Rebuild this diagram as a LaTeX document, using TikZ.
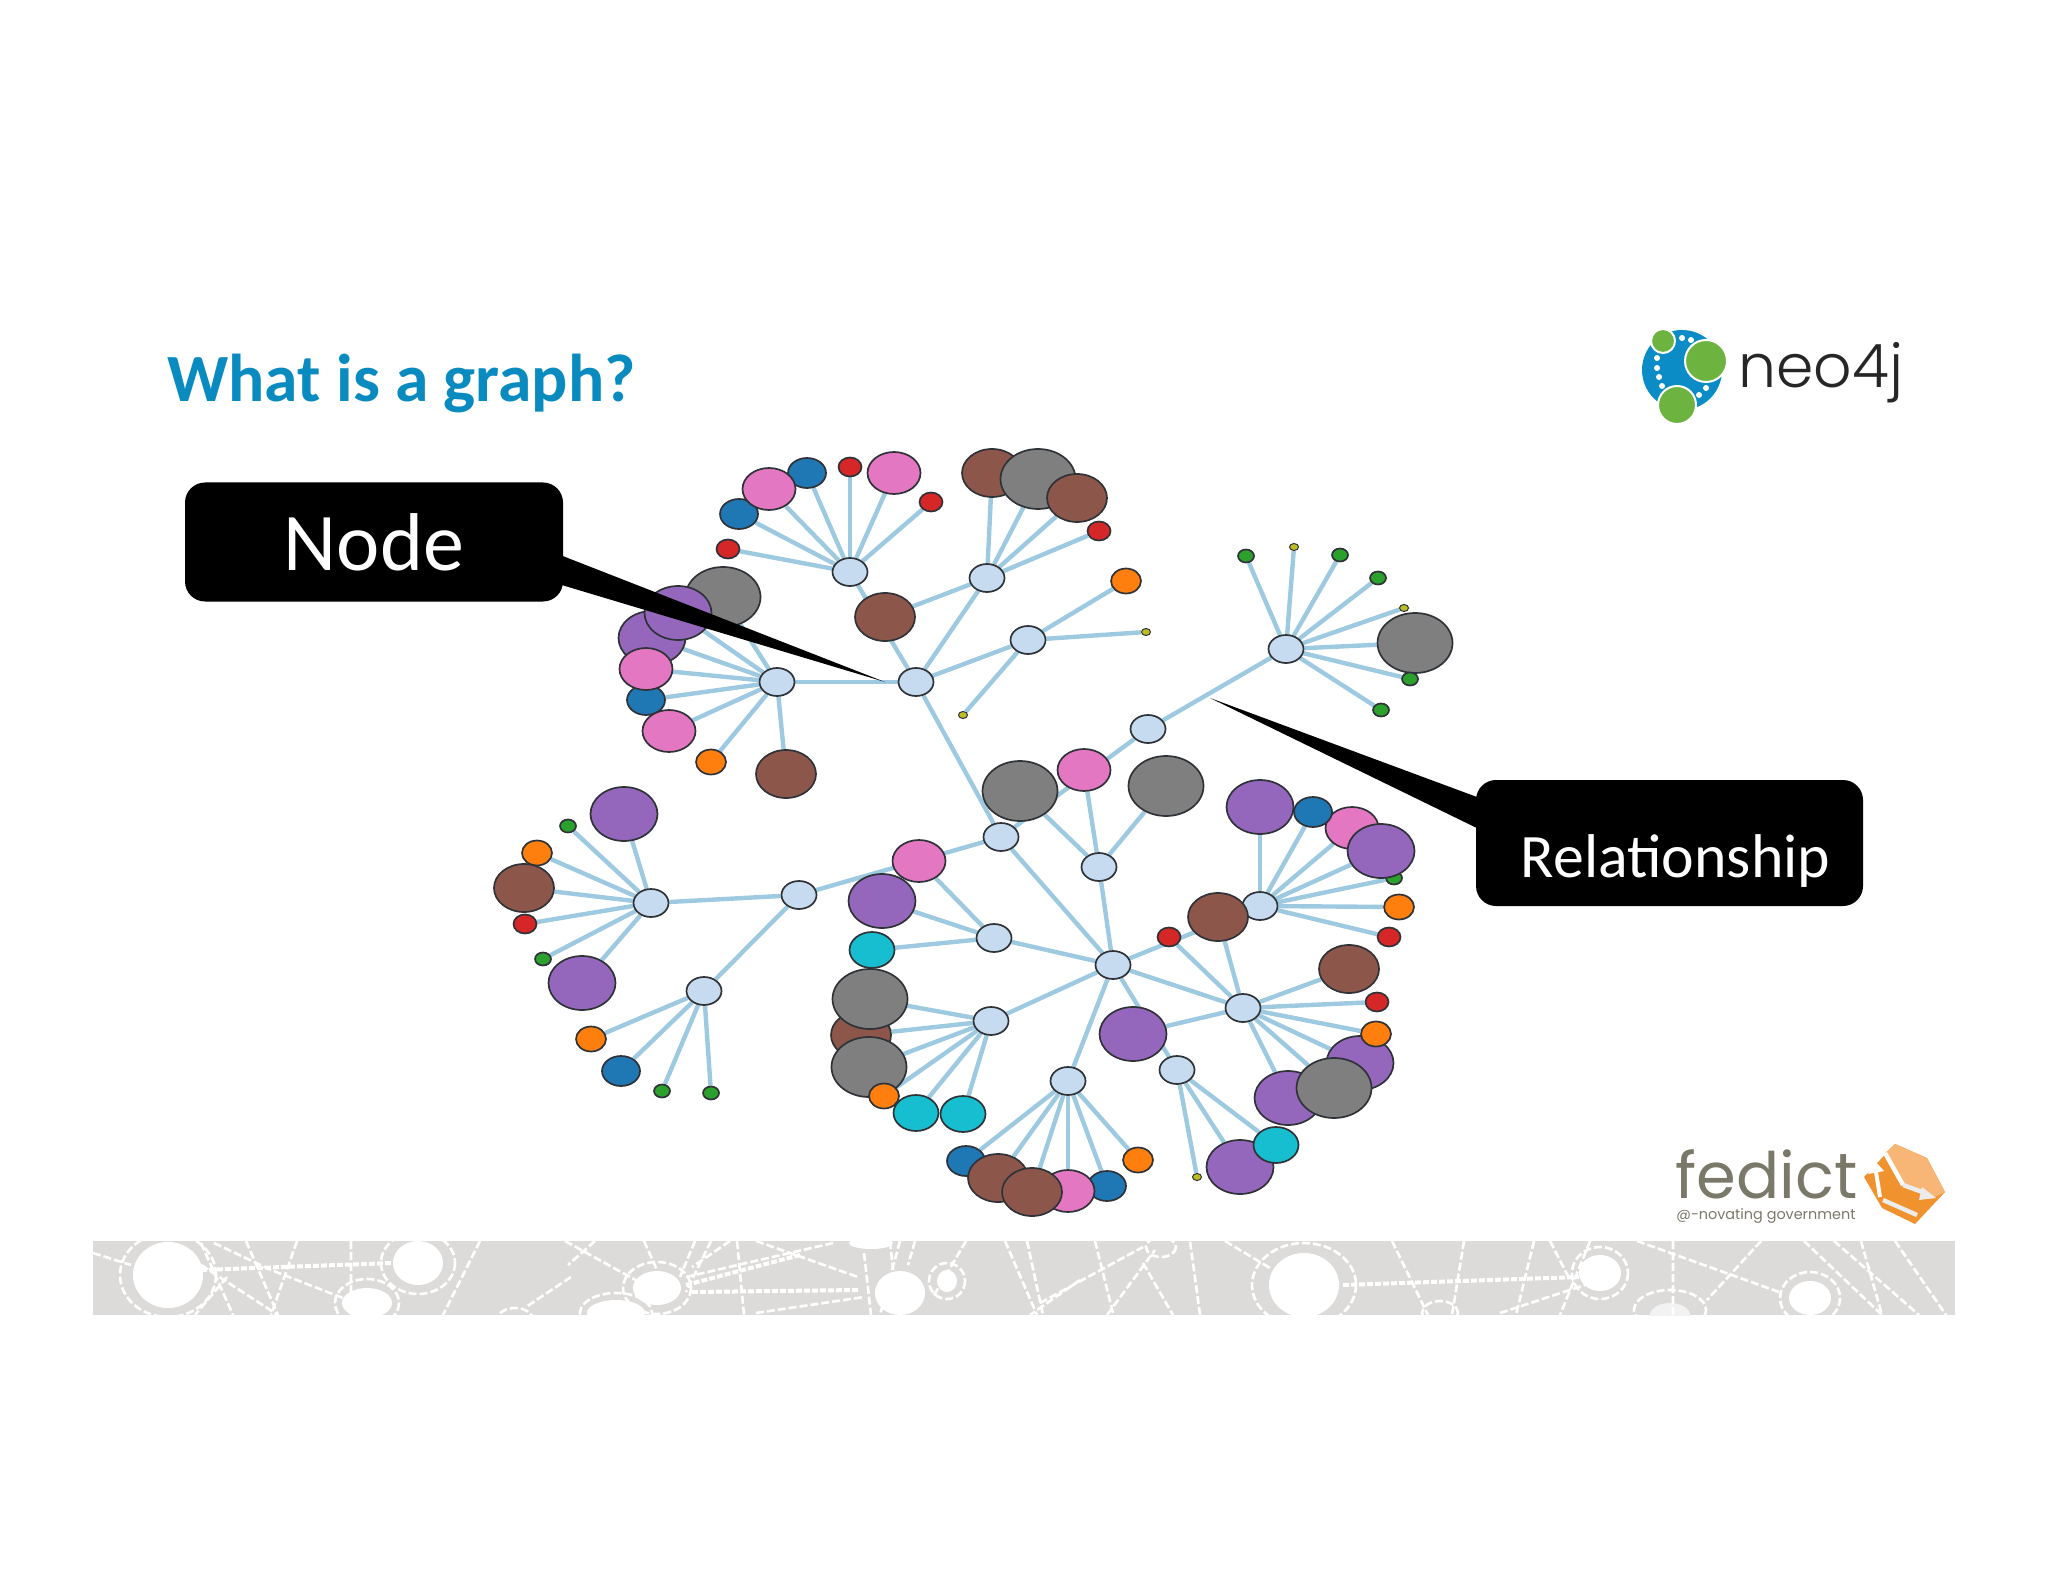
\documentclass[tikz,border=0pt]{standalone}
\usepackage{fontspec}
\setmainfont{Carlito}
\newfontfamily\neofont{Poppins Light}
\newfontfamily\fedictfont{Poppins}
\usepackage{tikz}
\usetikzlibrary{shapes.geometric,backgrounds}

\definecolor{titleblue}{HTML}{0A8BC0}
\definecolor{reledge}{HTML}{9ECAE1}
\definecolor{hubfill}{HTML}{C6DBEF}
\definecolor{rim}{HTML}{2F3338}
\definecolor{cblue}{HTML}{1F77B4}
\definecolor{corange}{HTML}{FF7F0E}
\definecolor{cgreen}{HTML}{2CA02C}
\definecolor{cred}{HTML}{D62728}
\definecolor{cpurple}{HTML}{9467BD}
\definecolor{cbrown}{HTML}{8C564B}
\definecolor{cpink}{HTML}{E377C2}
\definecolor{cgray}{HTML}{7F7F7F}
\definecolor{colive}{HTML}{BCBD22}
\definecolor{ccyan}{HTML}{17BECF}
\definecolor{bandgray}{HTML}{DCDBD9}
\definecolor{neoblue}{HTML}{0B8CC6}
\definecolor{neogreen}{HTML}{6DB33F}
\definecolor{fedgray}{HTML}{7A7868}
\definecolor{cubedark}{HTML}{F0922E}
\definecolor{cubelight}{HTML}{F7B676}

\tikzset{
  vertex/.style={ellipse,draw=rim,line width=.85pt,inner sep=0pt},
  hub/.style={vertex,fill=hubfill,minimum width=17.5pt,minimum height=14pt},
  graynode/.style={vertex,fill=cgray,minimum width=37.5pt,minimum height=30pt},
  purplenode/.style={vertex,fill=cpurple,minimum width=33.5pt,minimum height=27pt},
  brownnode/.style={vertex,fill=cbrown,minimum width=30pt,minimum height=24pt},
  pinknode/.style={vertex,fill=cpink,minimum width=26.5pt,minimum height=21pt},
  cyannode/.style={vertex,fill=ccyan,minimum width=22.5pt,minimum height=18pt},
  bluenode/.style={vertex,fill=cblue,minimum width=19pt,minimum height=15pt},
  orangenode/.style={vertex,fill=corange,minimum width=15pt,minimum height=12.5pt},
  rednode/.style={vertex,fill=cred,minimum width=11.5pt,minimum height=9.5pt},
  greennode/.style={vertex,fill=cgreen,minimum width=8pt,minimum height=6.5pt},
  tinynode/.style={vertex,line width=.5pt,fill=colive,minimum width=4.5pt,minimum height=3.5pt},
  rel/.style={draw=reledge,line width=2.2pt},
  callout/.style={fill=black,text=white,rounded corners=10pt,inner sep=0pt},
  bandline/.style={draw=white,line width=1.3pt,dash pattern=on 4pt off 1.5pt},
  bandthick/.style={draw=white,line width=2pt,dash pattern=on 3pt off 1pt},
}

\begin{document}
\begin{tikzpicture}[x=.5pt,y=-.5pt]
  \useasboundingbox (0,0) rectangle (2048,1582);

  \node[anchor=base west,inner sep=0pt,text=titleblue,font=\fontsize{33.8}{36}\selectfont\bfseries] (title) at (167,402) {What is a graph?};

  % neo4j logo
  \fill[neoblue] (1682,370) circle (40);
  \draw[white,line width=1pt,fill=neogreen] (1663,341) circle (12);
  \draw[white,line width=1pt,fill=neogreen] (1706,361) circle (21);
  \draw[white,line width=1pt,fill=neogreen] (1677,405) circle (19);
  \fill[white] (1682,338) circle (3) (1691,340) circle (3) (1657,358) circle (3) (1657,368) circle (3)
    (1659,377) circle (3) (1662,386) circle (3) (1699,395) circle (3) (1706,388) circle (3);
  \node[anchor=base west,inner sep=0pt,text=black!85,font=\neofont\fontsize{30}{32}\selectfont] (neo) at (1738,388) {neo4j};

  % fedict logo
  \node[anchor=base west,inner sep=0pt,text=fedgray,font=\fedictfont\fontsize{32}{34}\selectfont] (fedict) at (1675,1198) {fedict};
  \node[anchor=base west,inner sep=0pt,text=fedgray,font=\fedictfont\fontsize{7.2}{8}\selectfont] (slogan) at (1676,1219) {@-novating government};
  \fill[cubedark] (1895,1144) -- (1927,1158) -- (1945,1192) -- (1915,1224) -- (1882,1208) -- (1864,1177) -- cycle;
  \fill[cubelight] (1885,1153) -- (1895,1144) -- (1927,1158) -- (1945,1192) -- (1935,1197) -- (1903,1185) -- cycle;
  \draw[white,line width=2.2pt] (1885,1153) -- (1903,1185);
  \draw[white!85!gray,line width=2.2pt] (1903,1185) -- (1925,1193);
  \fill[white!85!gray] (1922,1187) -- (1936,1198) -- (1919,1200) -- cycle;
  \draw[white,line width=2pt] (1880,1197) -- (1876,1172);
  \fill[white] (1868,1174) -- (1874,1160) -- (1884,1171) -- cycle;
  \draw[white!85!gray,line width=2.2pt] (1883,1200) -- (1917,1215);

  % band at the foot
  \fill[bandgray] (93,1241) rectangle (1955,1315);
  \begin{scope}
    \clip (93,1241) rectangle (1955,1315);
    \fill[white] (168,1275) ellipse [x radius=35,y radius=33];
    \fill[white] (418,1263) ellipse [x radius=25,y radius=22];
    \fill[white] (367,1303) ellipse [x radius=25,y radius=15];
    \fill[white] (657,1288) ellipse [x radius=24,y radius=17];
    \fill[white] (616,1313) ellipse [x radius=29,y radius=13];
    \fill[white] (900,1293) ellipse [x radius=25,y radius=22];
    \fill[white] (947,1281) ellipse [x radius=10,y radius=11];
    \fill[white] (871,1243) ellipse [x radius=22,y radius=6];
    \fill[white] (1304,1285) ellipse [x radius=35,y radius=32];
    \fill[white] (1600,1273) ellipse [x radius=21,y radius=18];
    \fill[white] (1810,1298) ellipse [x radius=21,y radius=17];
    \fill[white!90!gray] (1670,1315) ellipse [x radius=20,y radius=12];
    \draw[bandline] (168,1275) ellipse [x radius=48,y radius=42]
      (418,1263) ellipse [x radius=37,y radius=31]
      (367,1303) ellipse [x radius=32,y radius=24]
      (657,1288) ellipse [x radius=34,y radius=26]
      (616,1313) ellipse [x radius=36,y radius=20]
      (947,1281) ellipse [x radius=18,y radius=18]
      (1304,1285) ellipse [x radius=52,y radius=42]
      (1600,1273) ellipse [x radius=28,y radius=26]
      (1670,1310) ellipse [x radius=36,y radius=20]
      (1810,1298) ellipse [x radius=30,y radius=26]
      (1161,1247) ellipse [x radius=15,y radius=10]
      (1440,1313) ellipse [x radius=18,y radius=12]
      (515,1320) ellipse [x radius=18,y radius=12];
    \draw[bandline] (93,1253) -- (131,1265) (214,1243) -- (271,1270) -- (348,1300)
      (246,1241) -- (278,1315) (297,1241) -- (271,1315) (201,1265) -- (278,1315)
      (227,1277) -- (195,1315) (201,1243) -- (233,1315) (351,1241) -- (351,1315)
      (480,1241) -- (443,1315) (565,1241) -- (641,1283) (595,1241) -- (568,1265)
      (571,1277) -- (526,1307) (737,1241) -- (744,1315) (686,1277) -- (833,1243)
      (756,1313) -- (864,1297) (966,1241) -- (933,1297) (1005,1241) -- (1037,1315)
      (1027,1241) -- (1043,1315) (1080,1280) -- (1030,1315) (900,1241) -- (880,1315)
      (644,1241) -- (657,1270) (695,1241) -- (680,1277) (711,1241) -- (686,1292)
      (730,1241) -- (692,1267) (756,1241) -- (858,1277) (864,1253) -- (871,1315)
      (890,1241) -- (893,1270) (915,1241) -- (908,1265)
      (1040,1303) -- (1143,1247) (1107,1315) -- (1155,1250) (1095,1241) -- (1113,1313)
      (1143,1263) -- (1173,1315) (1225,1241) -- (1270,1268) (1392,1241) -- (1428,1315)
      (1464,1241) -- (1452,1315) (1534,1241) -- (1516,1315) (1500,1313) -- (1585,1285)
      (1637,1241) -- (1779,1292) (1761,1241) -- (1707,1300) (1673,1241) -- (1673,1315)
      (1804,1241) -- (1882,1315) (1834,1241) -- (1919,1315) (1895,1241) -- (1946,1315)
      (1861,1241) -- (1882,1315) (1200,1315) -- (1190,1241)
      (1550,1241) -- (1570,1280) (1590,1241) -- (1560,1315);
    \draw[bandthick] (201,1270) -- (392,1263) (692,1292) -- (858,1290)
      (1343,1285) -- (1579,1277) (686,1285) -- (800,1255);
  \end{scope}

  % hubs
  \node[hub] (h1) at (850,572) {};
  \node[hub] (h2) at (987,578) {};
  \node[hub] (h3) at (916,682) {};
  \node[hub] (h4) at (1028,640) {};
  \node[hub] (h5) at (777,682) {};
  \node[hub] (h6) at (1001,837) {};
  \node[hub] (h7) at (1099,867) {};
  \node[hub] (h8) at (1113,965) {};
  \node[hub] (h9) at (994,938) {};
  \node[hub] (h10) at (991,1021) {};
  \node[hub] (h11) at (1068,1081) {};
  \node[hub] (h12) at (651,903) {};
  \node[hub] (h13) at (799,895) {};
  \node[hub] (h14) at (704,991) {};
  \node[hub] (h15) at (1260,906) {};
  \node[hub] (h16) at (1243,1008) {};
  \node[hub] (h17) at (1177,1070) {};
  \node[hub] (h18) at (1286,649) {};
  \node[hub] (h19) at (1148,729) {};

  % top left fan
  \node[rednode] (a1) at (728,549) {};
  \node[bluenode] (a2) at (739,514) {};
  \node[bluenode] (a4) at (807,473) {};
  \node[pinknode] (a3) at (769,489) {};
  \node[rednode] (a5) at (850,467) {};
  \node[pinknode] (a6) at (894,473) {};
  \node[rednode] (a7) at (931,502) {};
  \node[brownnode] (a8) at (885,617) {};

  % top fan
  \node[brownnode] (b1) at (992,473) {};
  \node[graynode] (b2) at (1038,479) {};
  \node[brownnode] (b3) at (1077,498) {};
  \node[rednode] (b4) at (1099,531) {};
  \node[orangenode] (c1) at (1126,581) {};
  \node[tinynode] (c2) at (1146,632) {};
  \node[tinynode] (c3) at (963,715) {};

  % left fan
  \node[graynode] (d1) at (723,597) {};
  \node[purplenode] (d3) at (652,638) {};
  \node[purplenode] (d2) at (678,613) {};
  \node[bluenode] (d5) at (646,700) {};
  \node[pinknode] (d4) at (646,669) {};
  \node[pinknode] (d6) at (669,731) {};
  \node[orangenode] (d7) at (711,762) {};
  \node[brownnode] (d8) at (786,774) {};

  % far left fans
  \node[purplenode] (e1) at (624,814) {};
  \node[greennode] (e2) at (568,826) {};
  \node[orangenode] (e3) at (537,853) {};
  \node[brownnode] (e4) at (524,888) {};
  \node[rednode] (e5) at (525,924) {};
  \node[greennode] (e6) at (543,959) {};
  \node[purplenode] (e7) at (582,983) {};
  \node[orangenode] (f1) at (591,1039) {};
  \node[bluenode] (f2) at (621,1071) {};
  \node[greennode] (f3) at (662,1091) {};
  \node[greennode] (f4) at (711,1093) {};

  % middle column
  \node[graynode] (g1) at (1020,791) {};
  \node[pinknode] (g2) at (1084,770) {};
  \node[graynode] (g3) at (1166,786) {};
  \node[pinknode] (k1) at (919,861) {};
  \node[purplenode] (k2) at (882,901) {};
  \node[cyannode] (k3) at (872,950) {};
  \node[brownnode] (m2) at (861,1035) {};
  \node[graynode] (m1) at (870,999) {};
  \node[graynode] (m3) at (869,1067) {};
  \node[cyannode] (m5) at (916,1113) {};
  \node[cyannode] (m6) at (963,1114) {};
  \node[orangenode] (m4) at (884,1096) {};

  % bottom fan
  \node[bluenode] (n1) at (966,1161) {};
  \node[bluenode] (n5) at (1107,1186) {};
  \node[pinknode] (n4) at (1068,1191) {};
  \node[brownnode] (n2) at (998,1178) {};
  \node[brownnode] (n3) at (1032,1192) {};
  \node[orangenode] (n6) at (1138,1160) {};

  % right fans
  \node[purplenode] (o1) at (1260,807) {};
  \node[pinknode] (o3) at (1352,828) {};
  \node[bluenode] (o2) at (1313,812) {};
  \node[greennode] (o5) at (1394,878) {};
  \node[purplenode] (o4) at (1381,851) {};
  \node[orangenode] (o6) at (1399,907) {};
  \node[rednode] (o7) at (1389,937) {};
  \node[brownnode] (s1) at (1218,917) {};
  \node[rednode] (s2) at (1169,937) {};
  \node[brownnode] (t1) at (1349,969) {};
  \node[rednode] (t2) at (1377,1002) {};
  \node[purplenode] (t4) at (1360,1063) {};
  \node[orangenode] (t3) at (1376,1034) {};
  \node[purplenode] (t6) at (1288,1098) {};
  \node[graynode] (t5) at (1334,1088) {};
  \node[purplenode] (u1) at (1133,1034) {};
  \node[tinynode] (u2) at (1197,1177) {};
  \node[purplenode] (u3) at (1240,1167) {};
  \node[cyannode] (u4) at (1276,1145) {};

  % fan far right
  \node[greennode] (w1) at (1246,556) {};
  \node[tinynode] (w2) at (1294,547) {};
  \node[greennode] (w3) at (1340,555) {};
  \node[greennode] (w4) at (1378,578) {};
  \node[tinynode] (w5) at (1404,608) {};
  \node[graynode] (w6) at (1415,643) {};
  \node[greennode] (w7) at (1410,679) {};
  \node[greennode] (w8) at (1381,710) {};

  \begin{scope}[on background layer]
    \path[rel] (h1) edge (a1) (h1) edge (a2) (h1) edge (a3) (h1) edge (a4) (h1) edge (a5)
      (h1) edge (a6) (h1) edge (a7) (h1) edge (h3) (a8) edge (h2)
      (h2) edge (b1) (h2) edge (b2) (h2) edge (b3) (h2) edge (b4) (h2) edge (h3)
      (h3) edge (h4) (h4) edge (c1) (h4) edge (c2) (h4) edge (c3)
      (h3) edge (h5) (h5) edge (d1) (h5) edge (d2) (h5) edge (d3) (h5) edge (d4)
      (h5) edge (d5) (h5) edge (d6) (h5) edge (d7) (h5) edge (d8)
      (h3) edge (h6) (h6) edge (h13) (h13) edge (h12) (h13) edge (h14)
      (h12) edge (e1) (h12) edge (e2) (h12) edge (e3) (h12) edge (e4) (h12) edge (e5)
      (h12) edge (e6) (h12) edge (e7)
      (h14) edge (f1) (h14) edge (f2) (h14) edge (f3) (h14) edge (f4)
      (h6) edge (h8) (h6) edge (h19) (h19) edge (h18)
      (h7) edge (g1) (h7) edge (g2) (h7) edge (g3) (h7) edge (h8)
      (h9) edge (k1) (h9) edge (k2) (h9) edge (k3) (h9) edge (h8)
      (h10) edge (h8) (h10) edge (m1) (h10) edge (m2) (h10) edge (m3) (h10) edge (m4)
      (h10) edge (m5) (h10) edge (m6)
      (h11) edge (h8) (h11) edge (n1) (h11) edge (n2) (h11) edge (n3) (h11) edge (n4)
      (h11) edge (n5) (h11) edge (n6)
      (h8) edge (h15) (h8) edge (h16) (h8) edge (h17)
      (h15) edge (o1) (h15) edge (o2) (h15) edge (o3) (h15) edge (o4) (h15) edge (o5)
      (h15) edge (o6) (h15) edge (o7)
      (s1) edge (h16) (s2) edge (h16) (u1) edge (h16)
      (h16) edge (t1) (h16) edge (t2) (h16) edge (t3) (h16) edge (t4) (h16) edge (t5) (h16) edge (t6)
      (h17) edge (u2) (h17) edge (u3) (h17) edge (u4)
      (h18) edge (w1) (h18) edge (w2) (h18) edge (w3) (h18) edge (w4) (h18) edge (w5)
      (h18) edge (w6) (h18) edge (w7) (h18) edge (w8);
  \end{scope}

  % callouts
  \coordinate (nodetip) at (885,682);
  \coordinate (nodebasea) at (555,553);
  \coordinate (nodebaseb) at (555,583);
  \coordinate (reltip) at (1210,698);
  \coordinate (relbasea) at (1485,800);
  \coordinate (relbaseb) at (1485,832);
  \fill[black] (nodebasea) -- (nodetip) -- (nodebaseb) -- cycle;
  \fill[black] (relbasea) -- (reltip) -- (relbaseb) -- cycle;
  \node[callout,minimum width=189pt,minimum height=59.5pt,font=\fontsize{41}{44}\selectfont] (nodelabel) at (374,542) {\raisebox{-14.5pt}[0pt][0pt]{Node}};
  \node[callout,minimum width=193.5pt,minimum height=63pt,font=\fontsize{30.9}{34}\selectfont] (rellabel) at (1669.5,843) {\hspace{6pt}\raisebox{-17pt}[0pt][0pt]{Relationship}};

\end{tikzpicture}
\end{document}
